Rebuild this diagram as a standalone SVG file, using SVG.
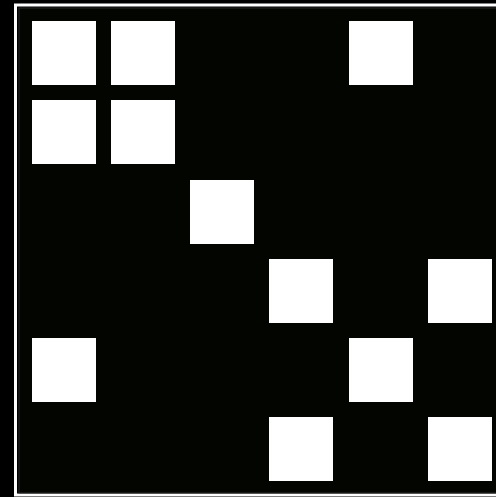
<svg xmlns="http://www.w3.org/2000/svg" width="496" height="497" viewBox="0 0 496 497">
<style>
.cell{fill:#ffffff}
</style>
<rect x="0" y="0" width="496" height="497" fill="#000000"/>
<rect x="15.5" y="5" width="484" height="490" fill="none" stroke="#ffffff" stroke-width="3"/>
<rect x="19" y="8" width="480" height="485" fill="#030600" stroke="#2a2a2a" stroke-width="1"/>
<g id="cells">
<rect id="c00" class="cell" x="32" y="21" width="64" height="64"/>
<rect id="c01" class="cell" x="111" y="21" width="64" height="64"/>
<rect id="c04" class="cell" x="349" y="21" width="64" height="64"/>
<rect id="c10" class="cell" x="32" y="100" width="64" height="64"/>
<rect id="c11" class="cell" x="111" y="100" width="64" height="64"/>
<rect id="c22" class="cell" x="190" y="180" width="64" height="64"/>
<rect id="c33" class="cell" x="269" y="259" width="64" height="64"/>
<rect id="c35" class="cell" x="428" y="259" width="64" height="64"/>
<rect id="c40" class="cell" x="32" y="338" width="64" height="64"/>
<rect id="c44" class="cell" x="349" y="338" width="64" height="64"/>
<rect id="c53" class="cell" x="269" y="417" width="64" height="64"/>
<rect id="c55" class="cell" x="428" y="417" width="64" height="64"/>
</g>
</svg>
